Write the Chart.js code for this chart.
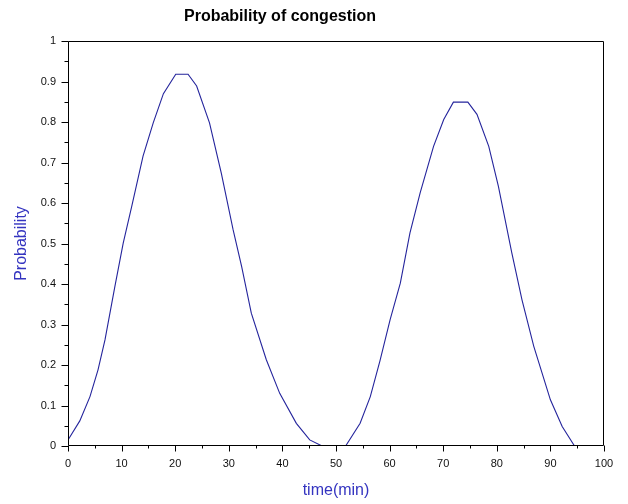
<!DOCTYPE html>
<html>
<head>
<meta charset="utf-8">
<script src="https://cdn.jsdelivr.net/npm/chart.js@4.4.0/dist/chart.umd.min.js"></script>
<style>
  html, body { margin: 0; padding: 0; background: #fff; }
  #wrap { width: 628px; height: 504px; position: relative; }
</style>
</head>
<body>
<div id="wrap"><canvas id="c" width="628" height="504"></canvas></div>
<script>
// ---- data ----
const chartTitle = "Probability of congestion";
const xTitle = "time(min)";
const yTitle = "Probability";
const timeValues = [0, 2.2, 4.1, 5.6, 6.9, 8.75, 10.3, 11.9, 14.0, 15.9, 17.8, 20.1, 22.4, 24.0, 26.4, 28.6, 30.8, 32.4, 34.2, 37.0, 39.5, 42.6, 45.1, 47.4, 51.8, 54.5, 56.4, 58.2, 60.1, 62.0, 63.8, 65.7, 68.2, 70.1, 71.9, 74.6, 76.3, 78.5, 80.3, 82.8, 84.7, 86.9, 90.0, 92.2, 94.5];
const probValues = [0.015, 0.062, 0.122, 0.188, 0.262, 0.394, 0.501, 0.592, 0.716, 0.798, 0.870, 0.918, 0.918, 0.889, 0.798, 0.674, 0.534, 0.443, 0.328, 0.213, 0.130, 0.056, 0.015, 0.0, 0.0, 0.056, 0.122, 0.210, 0.312, 0.402, 0.526, 0.625, 0.740, 0.806, 0.849, 0.849, 0.819, 0.740, 0.641, 0.477, 0.361, 0.246, 0.114, 0.048, 0.0];
const xMin = 0, xMax = 100, xStep = 5;
const yMin = 0, yMax = 1, yStep = 0.05;

const points = timeValues.map((t, i) => ({ x: t, y: probValues[i] }));

const frameAndTicks = {
  id: 'frameAndTicks',
  afterDraw(chart) {
    const { ctx, chartArea, scales } = chart;
    const L = Math.round(chartArea.left) + 0.5;
    const T = Math.round(chartArea.top) + 0.5;
    const R = Math.round(chartArea.right) - 0.5;
    const B = Math.round(chartArea.bottom) - 0.5;
    ctx.save();
    ctx.strokeStyle = '#000';
    ctx.lineWidth = 1;
    ctx.beginPath();
    ctx.rect(L, T, R - L, B - T);
    ctx.stroke();
    ctx.beginPath();
    scales.x.ticks.forEach(tk => {
      const px = Math.round(scales.x.getPixelForValue(tk.value)) + 0.5;
      const major = Math.round(tk.value) % 10 === 0;
      ctx.moveTo(px, B);
      ctx.lineTo(px, B + (major ? 6 : 3));
    });
    scales.y.ticks.forEach(tk => {
      const py = Math.round(scales.y.getPixelForValue(tk.value)) + 0.5;
      const major = Math.round(tk.value * 100) % 10 === 0;
      ctx.moveTo(L, py);
      ctx.lineTo(L - (major ? 7 : 4), py);
    });
    ctx.stroke();
    // chart title
    ctx.fillStyle = '#000';
    ctx.font = 'bold 16px "Liberation Sans", Arial, sans-serif';
    ctx.textAlign = 'center';
    ctx.textBaseline = 'alphabetic';
    ctx.fillText(chartTitle, 280, 21);
    ctx.restore();
  }
};

new Chart(document.getElementById('c'), {
  type: 'line',
  data: {
    datasets: [{
      data: points,
      borderColor: '#24249c',
      borderWidth: 1.1,
      pointRadius: 0,
      tension: 0,
      fill: false
    }]
  },
  options: {
    responsive: false,
    animation: false,
    layout: { padding: { top: 41, right: 24, bottom: 0, left: 0 } },
    plugins: { legend: { display: false }, tooltip: { enabled: false }, title: { display: false } },
    scales: {
      x: {
        type: 'linear', min: xMin, max: xMax,
        afterFit(s) { s.height = 58; },
        grid: { drawOnChartArea: false, drawTicks: true, tickLength: 7, tickColor: 'rgba(0,0,0,0)' },
        border: { display: false },
        ticks: {
          stepSize: xStep, autoSkip: false, maxRotation: 0, padding: 4,
          color: '#111', font: { family: '"Liberation Sans", Arial, sans-serif', size: 11 },
          callback: v => (Math.round(v) % 10 === 0 ? String(Math.round(v)) : '')
        },
        title: {
          display: true, text: xTitle, color: '#3434c0',
          font: { family: '"Liberation Sans", Arial, sans-serif', size: 16 },
          padding: { top: 0, bottom: 4 }
        }
      },
      y: {
        type: 'linear', min: yMin, max: yMax,
        afterFit(s) { s.width = 68; },
        grid: { drawOnChartArea: false, drawTicks: true, tickLength: 7, tickColor: 'rgba(0,0,0,0)' },
        border: { display: false },
        ticks: {
          stepSize: yStep, autoSkip: false, padding: 5,
          color: '#111', font: { family: '"Liberation Sans", Arial, sans-serif', size: 11 },
          callback: v => {
            const k = Math.round(v * 100);
            return k % 10 === 0 ? String(k / 100) : '';
          }
        },
        title: {
          display: true, text: yTitle, color: '#3434c0',
          font: { family: '"Liberation Sans", Arial, sans-serif', size: 16 },
          padding: { top: 12, bottom: 0 }
        }
      }
    }
  },
  plugins: [frameAndTicks]
});
</script>
</body>
</html>
